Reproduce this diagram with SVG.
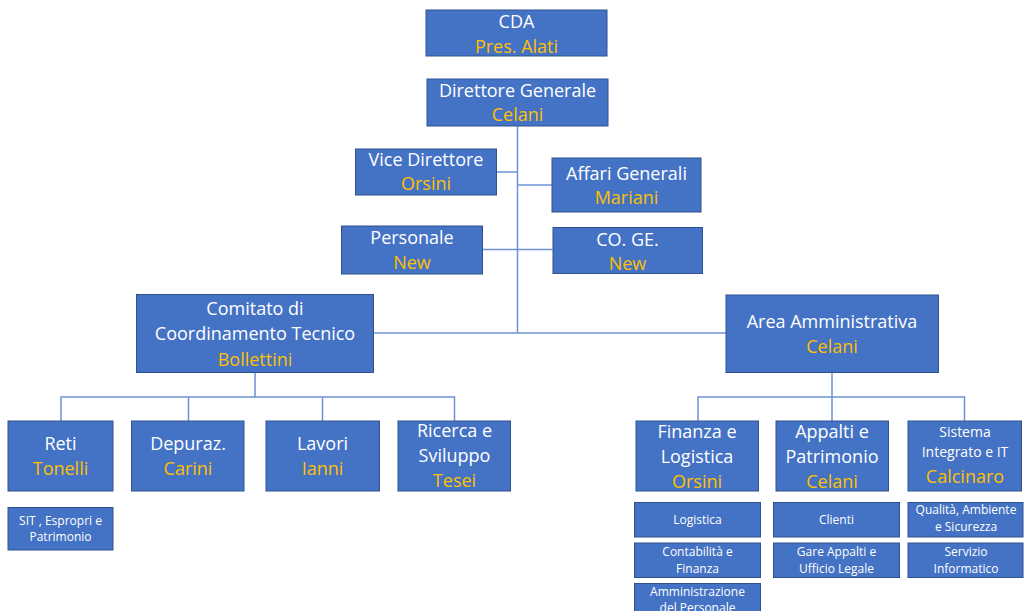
<svg xmlns="http://www.w3.org/2000/svg" width="1024" height="611" viewBox="0 0 1024 611">
<style>
.box{fill:#4472C4;stroke:#2F528F;stroke-width:1}
.t{font-family:"Open Sans","Liberation Sans",sans-serif;font-size:18px;fill:#FFFFFF;text-anchor:middle}
.n{font-family:"Open Sans","Liberation Sans",sans-serif;font-size:18px;fill:#FFC000;text-anchor:middle}
.s{font-family:"Open Sans","Liberation Sans",sans-serif;font-size:12px;fill:#FFFFFF;text-anchor:middle}
.m{font-family:"Open Sans","Liberation Sans",sans-serif;font-size:14px;fill:#FFFFFF;text-anchor:middle}
.c{fill:none;stroke:#6E92D6;stroke-width:1.5}
</style>
<rect width="1024" height="611" fill="#FFFFFF"/>
<g id="connectors">
<path class="c" d="M517.5 126V333"/>
<path class="c" d="M497 172H517.5"/>
<path class="c" d="M517.5 185H552"/>
<path class="c" d="M483 249.5H552.5"/>
<path class="c" d="M373 333H726"/>
<path class="c" d="M255 372V397M61 421V397H454.5V421M188.5 397V421M322.5 397V421"/>
<path class="c" d="M832 372V421M698 421V397H964.5V421"/>
</g>
<g id="cda"><rect class="box" x="426" y="10" width="181" height="46"/><text class="t" x="516.5" y="28">CDA</text><text class="n" x="516.5" y="53">Pres. Alati</text></g>
<g id="dg"><rect class="box" x="427" y="79" width="181" height="47"/><text class="t" x="517.5" y="97">Direttore Generale</text><text class="n" x="517.5" y="121">Celani</text></g>
<g id="vice"><rect class="box" x="355.5" y="149" width="141" height="46"/><text class="t" x="426" y="166">Vice Direttore</text><text class="n" x="426" y="190">Orsini</text></g>
<g id="affari"><rect class="box" x="552" y="158" width="149" height="54"/><text class="t" x="626.5" y="180">Affari Generali</text><text class="n" x="626.5" y="204">Mariani</text></g>
<g id="personale"><rect class="box" x="341.5" y="226" width="141" height="48"/><text class="t" x="412" y="244">Personale</text><text class="n" x="412" y="269">New</text></g>
<g id="coge"><rect class="box" x="553" y="227.5" width="149.5" height="46"/><text class="t" x="627.5" y="246">CO. GE.</text><text class="n" x="627.5" y="270">New</text></g>
<g id="comitato"><rect class="box" x="136.5" y="294.5" width="237" height="78"/><text class="t" x="255" y="315">Comitato di</text><text class="t" x="255" y="340">Coordinamento Tecnico</text><text class="n" x="255" y="366">Bollettini</text></g>
<g id="area"><rect class="box" x="726" y="295" width="212.5" height="77.5"/><text class="t" x="832" y="327.5">Area Amministrativa</text><text class="n" x="832" y="353">Celani</text></g>
<g id="reti"><rect class="box" x="8" y="421" width="105" height="70"/><text class="t" x="60.5" y="450">Reti</text><text class="n" x="60.5" y="474.5">Tonelli</text></g>
<g id="depuraz"><rect class="box" x="131.5" y="421" width="112.5" height="70"/><text class="t" x="188" y="450">Depuraz.</text><text class="n" x="188" y="474.5">Carini</text></g>
<g id="lavori"><rect class="box" x="266" y="421" width="113.5" height="70"/><text class="t" x="322.5" y="450">Lavori</text><text class="n" x="322.5" y="474.5">Ianni</text></g>
<g id="ricerca"><rect class="box" x="398" y="421" width="112.5" height="70"/><text class="t" x="454.5" y="437">Ricerca e</text><text class="t" x="454.5" y="462">Sviluppo</text><text class="n" x="454.5" y="487">Tesei</text></g>
<g id="finanza"><rect class="box" x="636" y="421" width="122.5" height="70"/><text class="t" x="697" y="437.5">Finanza e</text><text class="t" x="697" y="463">Logistica</text><text class="n" x="697" y="488">Orsini</text></g>
<g id="appalti"><rect class="box" x="776" y="421" width="112.5" height="70"/><text class="t" x="832" y="437.5">Appalti e</text><text class="t" x="832" y="463">Patrimonio</text><text class="n" x="832" y="488">Celani</text></g>
<g id="sistema"><rect class="box" x="908" y="421" width="113.5" height="70"/><text class="m" x="965" y="437">Sistema</text><text class="m" x="965" y="457">Integrato e IT</text><text class="n" x="965" y="482.5">Calcinaro</text></g>
<g id="sit"><rect class="box" x="8" y="507.5" width="105" height="42.5"/><text class="s" x="60.5" y="524.5">SIT , Espropri e</text><text class="s" x="60.5" y="541">Patrimonio</text></g>
<g id="logistica"><rect class="box" x="634.5" y="502.5" width="126" height="34.5"/><text class="s" x="697.5" y="523.5">Logistica</text></g>
<g id="contabilita"><rect class="box" x="634.5" y="543" width="126" height="34.5"/><text class="s" x="697.5" y="556">Contabilità e</text><text class="s" x="697.5" y="572.5">Finanza</text></g>
<g id="amministrazione"><rect class="box" x="634.5" y="583.5" width="126" height="34"/><text class="s" x="697.5" y="596">Amministrazione</text><text class="s" x="697.5" y="611.5">del Personale</text></g>
<g id="clienti"><rect class="box" x="773.5" y="502.5" width="126" height="34.5"/><text class="s" x="836.5" y="523.5">Clienti</text></g>
<g id="gare"><rect class="box" x="773.5" y="543" width="126" height="34.5"/><text class="s" x="836.5" y="556">Gare Appalti e</text><text class="s" x="836.5" y="572.5">Ufficio Legale</text></g>
<g id="qualita"><rect class="box" x="908" y="502.5" width="115" height="34.5"/><text class="s" x="966" y="514">Qualità, Ambiente</text><text class="s" x="966" y="531">e Sicurezza</text></g>
<g id="servizio"><rect class="box" x="908" y="543" width="115" height="34.5"/><text class="s" x="966" y="556">Servizio</text><text class="s" x="966" y="572.5">Informatico</text></g>
</svg>
